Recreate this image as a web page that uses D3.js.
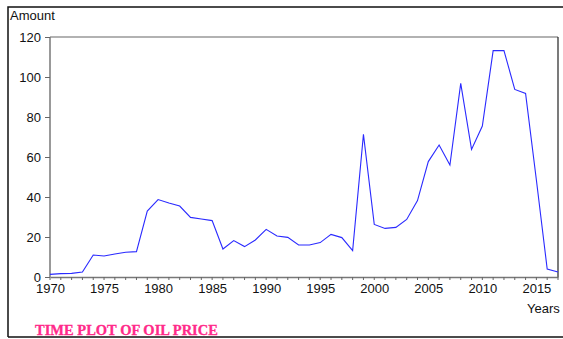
<!DOCTYPE html>
<html>
<head>
<meta charset="utf-8">
<script src="https://cdn.jsdelivr.net/npm/d3@7"></script>
<style>
  body { margin: 0; background: #fff; }
  svg { display: block; }
</style>
</head>
<body>
<div id="chart"></div>
<script>
// Data
const years = d3.range(1970, 2018);
const prices = [1.3, 1.7, 1.8, 2.5, 11, 10.5, 11.5, 12.4, 12.7, 33,
  38.7, 37, 35.5, 29.8, 29, 28.2, 14, 18.2, 15.2, 18.5,
  23.8, 20.5, 19.8, 16, 16, 17.2, 21.3, 19.7, 13.2, 71.3,
  26.3, 24.3, 24.8, 28.8, 38.2, 57.7, 66, 56, 96.8, 63.8,
  75.5, 113.2, 113.2, 93.8, 91.8, 48.5, 4, 2.5];
const yTicks = [0, 20, 40, 60, 80, 100, 120];
const xTicks = [1970, 1975, 1980, 1985, 1990, 1995, 2000, 2005, 2010, 2015];

const data = years.map((y, i) => ({year: y, value: prices[i]}));

// Set dimensions
const width = 563,
    height = 339,
    margin = {top: 37, right: 5, bottom: 62, left: 50};

const svg = d3.select("#chart")
  .append("svg")
  .attr("width", width)
  .attr("height", height);

// Outer frame
svg.append("path")
  .attr("d", "M8,337 L8,7 L563,7 M8,337 L563,337")
  .attr("fill", "none")
  .attr("stroke", "#111")
  .attr("stroke-width", 1.5);

const innerWidth = width - margin.left - margin.right;

const g = svg.append("g")
  .attr("transform", `translate(${margin.left}, ${margin.top})`);

// Scales
const x = d3.scaleLinear()
  .domain([1970, 2017])
  .range([0, innerWidth]);

const y = d3.scaleLinear()
  .domain([0, 120])
  .range([240, 0]);

const plotW = x(2017);

// Plot box (top gray, right dark)
g.append("line")
  .attr("x1", 0).attr("x2", plotW).attr("y1", 0).attr("y2", 0)
  .attr("stroke", "#999").attr("stroke-width", 1.5);
g.append("line")
  .attr("x1", plotW).attr("x2", plotW).attr("y1", 0).attr("y2", 240)
  .attr("stroke", "#222").attr("stroke-width", 1.2);

// X-axis
const xAxis = g.append("g")
  .attr("transform", "translate(0,240)")
  .call(d3.axisBottom(x).tickValues(xTicks).tickFormat(d3.format("d")).tickSize(0).tickPadding(7));
xAxis.select(".domain").attr("stroke", "#777").attr("stroke-width", 1.5);
xAxis.selectAll("text")
  .style("font-family", "'Liberation Sans', Arial, sans-serif")
  .style("font-size", "13px")
  .attr("fill", "#111");

// minor year ticks
g.append("g")
  .selectAll("line")
  .data(years)
  .enter()
  .append("line")
  .attr("x1", d => x(d)).attr("x2", d => x(d))
  .attr("y1", 240).attr("y2", 243)
  .attr("stroke", "#666");

// Y-axis
const yAxis = g.append("g")
  .call(d3.axisLeft(y).tickValues(yTicks).tickSize(5).tickPadding(4));
yAxis.select(".domain").attr("stroke", "#777").attr("stroke-width", 1.5).attr("d", "M0,0V240");
yAxis.selectAll(".tick line").attr("stroke", "#666");
yAxis.selectAll("text")
  .style("font-family", "'Liberation Sans', Arial, sans-serif")
  .style("font-size", "13px")
  .attr("fill", "#111");

// Line
const line = d3.line()
  .x(d => x(d.year))
  .y(d => y(d.value));

g.append("path")
  .datum(data)
  .attr("fill", "none")
  .attr("stroke", "#2a2aff")
  .attr("stroke-width", 1.1)
  .attr("d", line);

// Labels
svg.append("text")
  .attr("x", 10)
  .attr("y", 20)
  .style("font-family", "'Liberation Sans', Arial, sans-serif")
  .style("font-size", "13px")
  .attr("fill", "#111")
  .text("Amount");

svg.append("text")
  .attr("x", 527)
  .attr("y", 313)
  .style("font-family", "'Liberation Sans', Arial, sans-serif")
  .style("font-size", "13px")
  .attr("fill", "#111")
  .text("Years");

svg.append("text")
  .attr("x", 35)
  .attr("y", 335)
  .style("font-family", "'Liberation Serif', serif")
  .style("font-size", "14.5px")
  .style("font-weight", "bold")
  .attr("fill", "#ff2a8a")
  .attr("stroke", "#ff2a8a")
  .attr("stroke-width", 0.3)
  .text("TIME PLOT OF OIL PRICE");
</script>
</body>
</html>
